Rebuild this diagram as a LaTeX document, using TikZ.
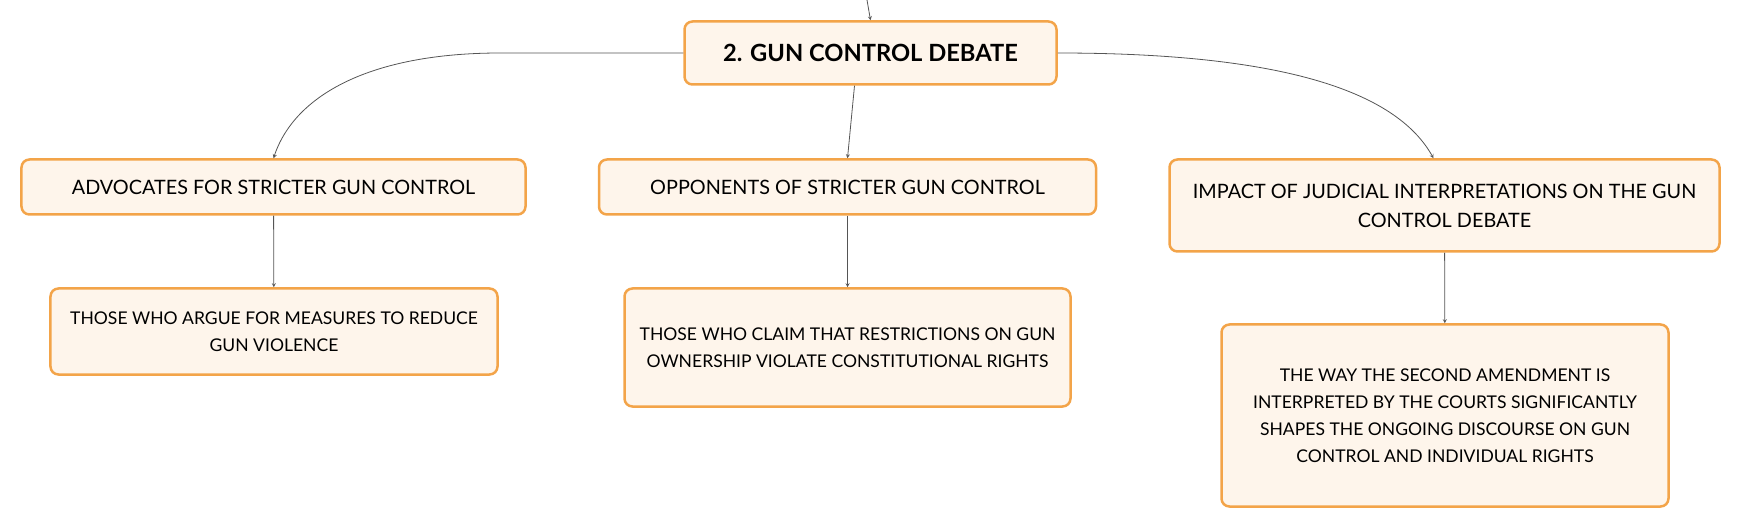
\documentclass[tikz,border=0pt]{standalone}
\usepackage{fontspec}
\setmainfont{Lato}
\usetikzlibrary{arrows.meta}
\definecolor{boxfill}{HTML}{FEF5EB}
\definecolor{boxline}{HTML}{F3A449}
\definecolor{linkgray}{HTML}{555555}
\begin{document}
\begin{tikzpicture}[x=1bp,y=-1bp,
	box/.style={draw=boxline,fill=boxfill,line width=2.5bp,rounded corners=8bp,align=center,inner sep=0pt},
	topic/.style={box,minimum width=372bp,minimum height=63bp,font=\fontsize{23.8}{28}\selectfont\bfseries},
	branch/.style={box,font=\fontsize{19.9}{29}\selectfont},
	detail/.style={box,font=\fontsize{17.6}{27}\selectfont},
	link/.style={draw=linkgray,line width=0.8bp,-stealth}]
	\useasboundingbox (0,0) rectangle (1743,530);
	\node[topic] (v0) at (870.5, 53)  {2. GUN CONTROL DEBATE};
	\node[branch,minimum width=504bp,minimum height=55bp] (v1) at (273.5,187)   {ADVOCATES FOR STRICTER GUN CONTROL};
	\node[branch,minimum width=497bp,minimum height=55bp] (v2) at (847.5,187)   {OPPONENTS OF STRICTER GUN CONTROL};
	\node[branch,minimum width=550bp,minimum height=92bp] (v3) at (1444.5,205.5) {IMPACT OF JUDICIAL INTERPRETATIONS ON THE GUN\\CONTROL DEBATE};
	\node[detail,minimum width=447bp,minimum height=86bp] (v4) at (274,331.5)  {THOSE WHO ARGUE FOR MEASURES TO REDUCE\\GUN VIOLENCE};
	\node[detail,minimum width=446bp,minimum height=118bp] (v5) at (847.5,347.5) {THOSE WHO CLAIM THAT RESTRICTIONS ON GUN\\OWNERSHIP VIOLATE CONSTITUTIONAL RIGHTS};
	\node[detail,minimum width=447bp,minimum height=182bp] (v6) at (1445,415.5) {THE WAY THE SECOND AMENDMENT IS\\INTERPRETED BY THE COURTS SIGNIFICANTLY\\SHAPES THE ONGOING DISCOURSE ON GUN\\CONTROL AND INDIVIDUAL RIGHTS};
	\coordinate (t0) at (867,0);

	\draw[link] (t0) -- (v0.north);
	\draw[link] (v0.west) -- ++(-183,0) .. controls +(-130,0) and +(21,-63) .. (v1.north);
	\draw[link] ([xshift=-16bp]v0.south) -- (v2.north);
	\draw[link] (v0.east) .. controls +(222,0) and +(-38,-68) .. ([xshift=-11bp]v3.north);
	\foreach \u/\v in {v1/v4, v2/v5, v3/v6}
	{	\draw[link] (\u) -- (\v);
	}
\end{tikzpicture}
\end{document}
